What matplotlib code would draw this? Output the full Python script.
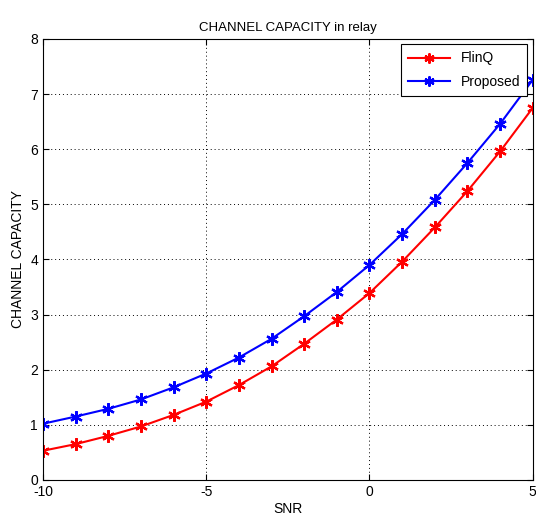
import numpy as np
import matplotlib
matplotlib.use('Agg')
import matplotlib.pyplot as plt

plt.rcParams['font.family'] = ['Liberation Sans', 'DejaVu Sans']
plt.rcParams['axes.unicode_minus'] = False

# SNR values and channel capacity
snr = [-10, -9, -8, -7, -6, -5, -4, -3, -2, -1, 0, 1, 2, 3, 4, 5]
flinq = [0.53, 0.65, 0.80, 0.97, 1.18, 1.42, 1.72, 2.06, 2.47, 2.91, 3.39, 3.96, 4.58, 5.24, 5.96, 6.75]
proposed = [1.02, 1.15, 1.29, 1.46, 1.68, 1.93, 2.22, 2.56, 2.97, 3.41, 3.90, 4.46, 5.08, 5.75, 6.46, 7.26]

fig = plt.figure(figsize=(5.36, 5.22), dpi=100)
ax = fig.add_axes([0.080, 0.0805, 0.914, 0.845])

# MATLAB-style asterisk markers
ast = (6, 2, 0)
ax.plot(snr, flinq, color='red', marker=ast, markersize=9, markeredgewidth=1.6,
        linewidth=1.5, label='FlinQ')
ax.plot(snr, proposed, color='blue', marker=ast, markersize=9, markeredgewidth=1.6,
        linewidth=1.5, label='Proposed')

ax.set_xlim(-10, 5)
ax.set_ylim(0, 8)
ax.set_xticks([-10, -5, 0, 5])
ax.set_yticks(range(0, 9))
ax.tick_params(direction='in', top=True, right=True, labelsize=10, length=4)
ax.grid(True, color='black', linestyle=(0, (1, 3)), linewidth=0.7)

ax.set_title('CHANNEL CAPACITY in relay', fontsize=9.5)
ax.set_xlabel('SNR', fontsize=10, labelpad=2)
ax.set_ylabel('CHANNEL CAPACITY', fontsize=10, labelpad=4)

leg = ax.legend(loc='upper right', fontsize=10, fancybox=False, framealpha=1,
                edgecolor='black', borderaxespad=0.4, handlelength=3.0,
                labelspacing=0.7, borderpad=0.5, markerscale=0.8)
leg.get_frame().set_linewidth(0.8)

plt.savefig('out.png', dpi=100)
